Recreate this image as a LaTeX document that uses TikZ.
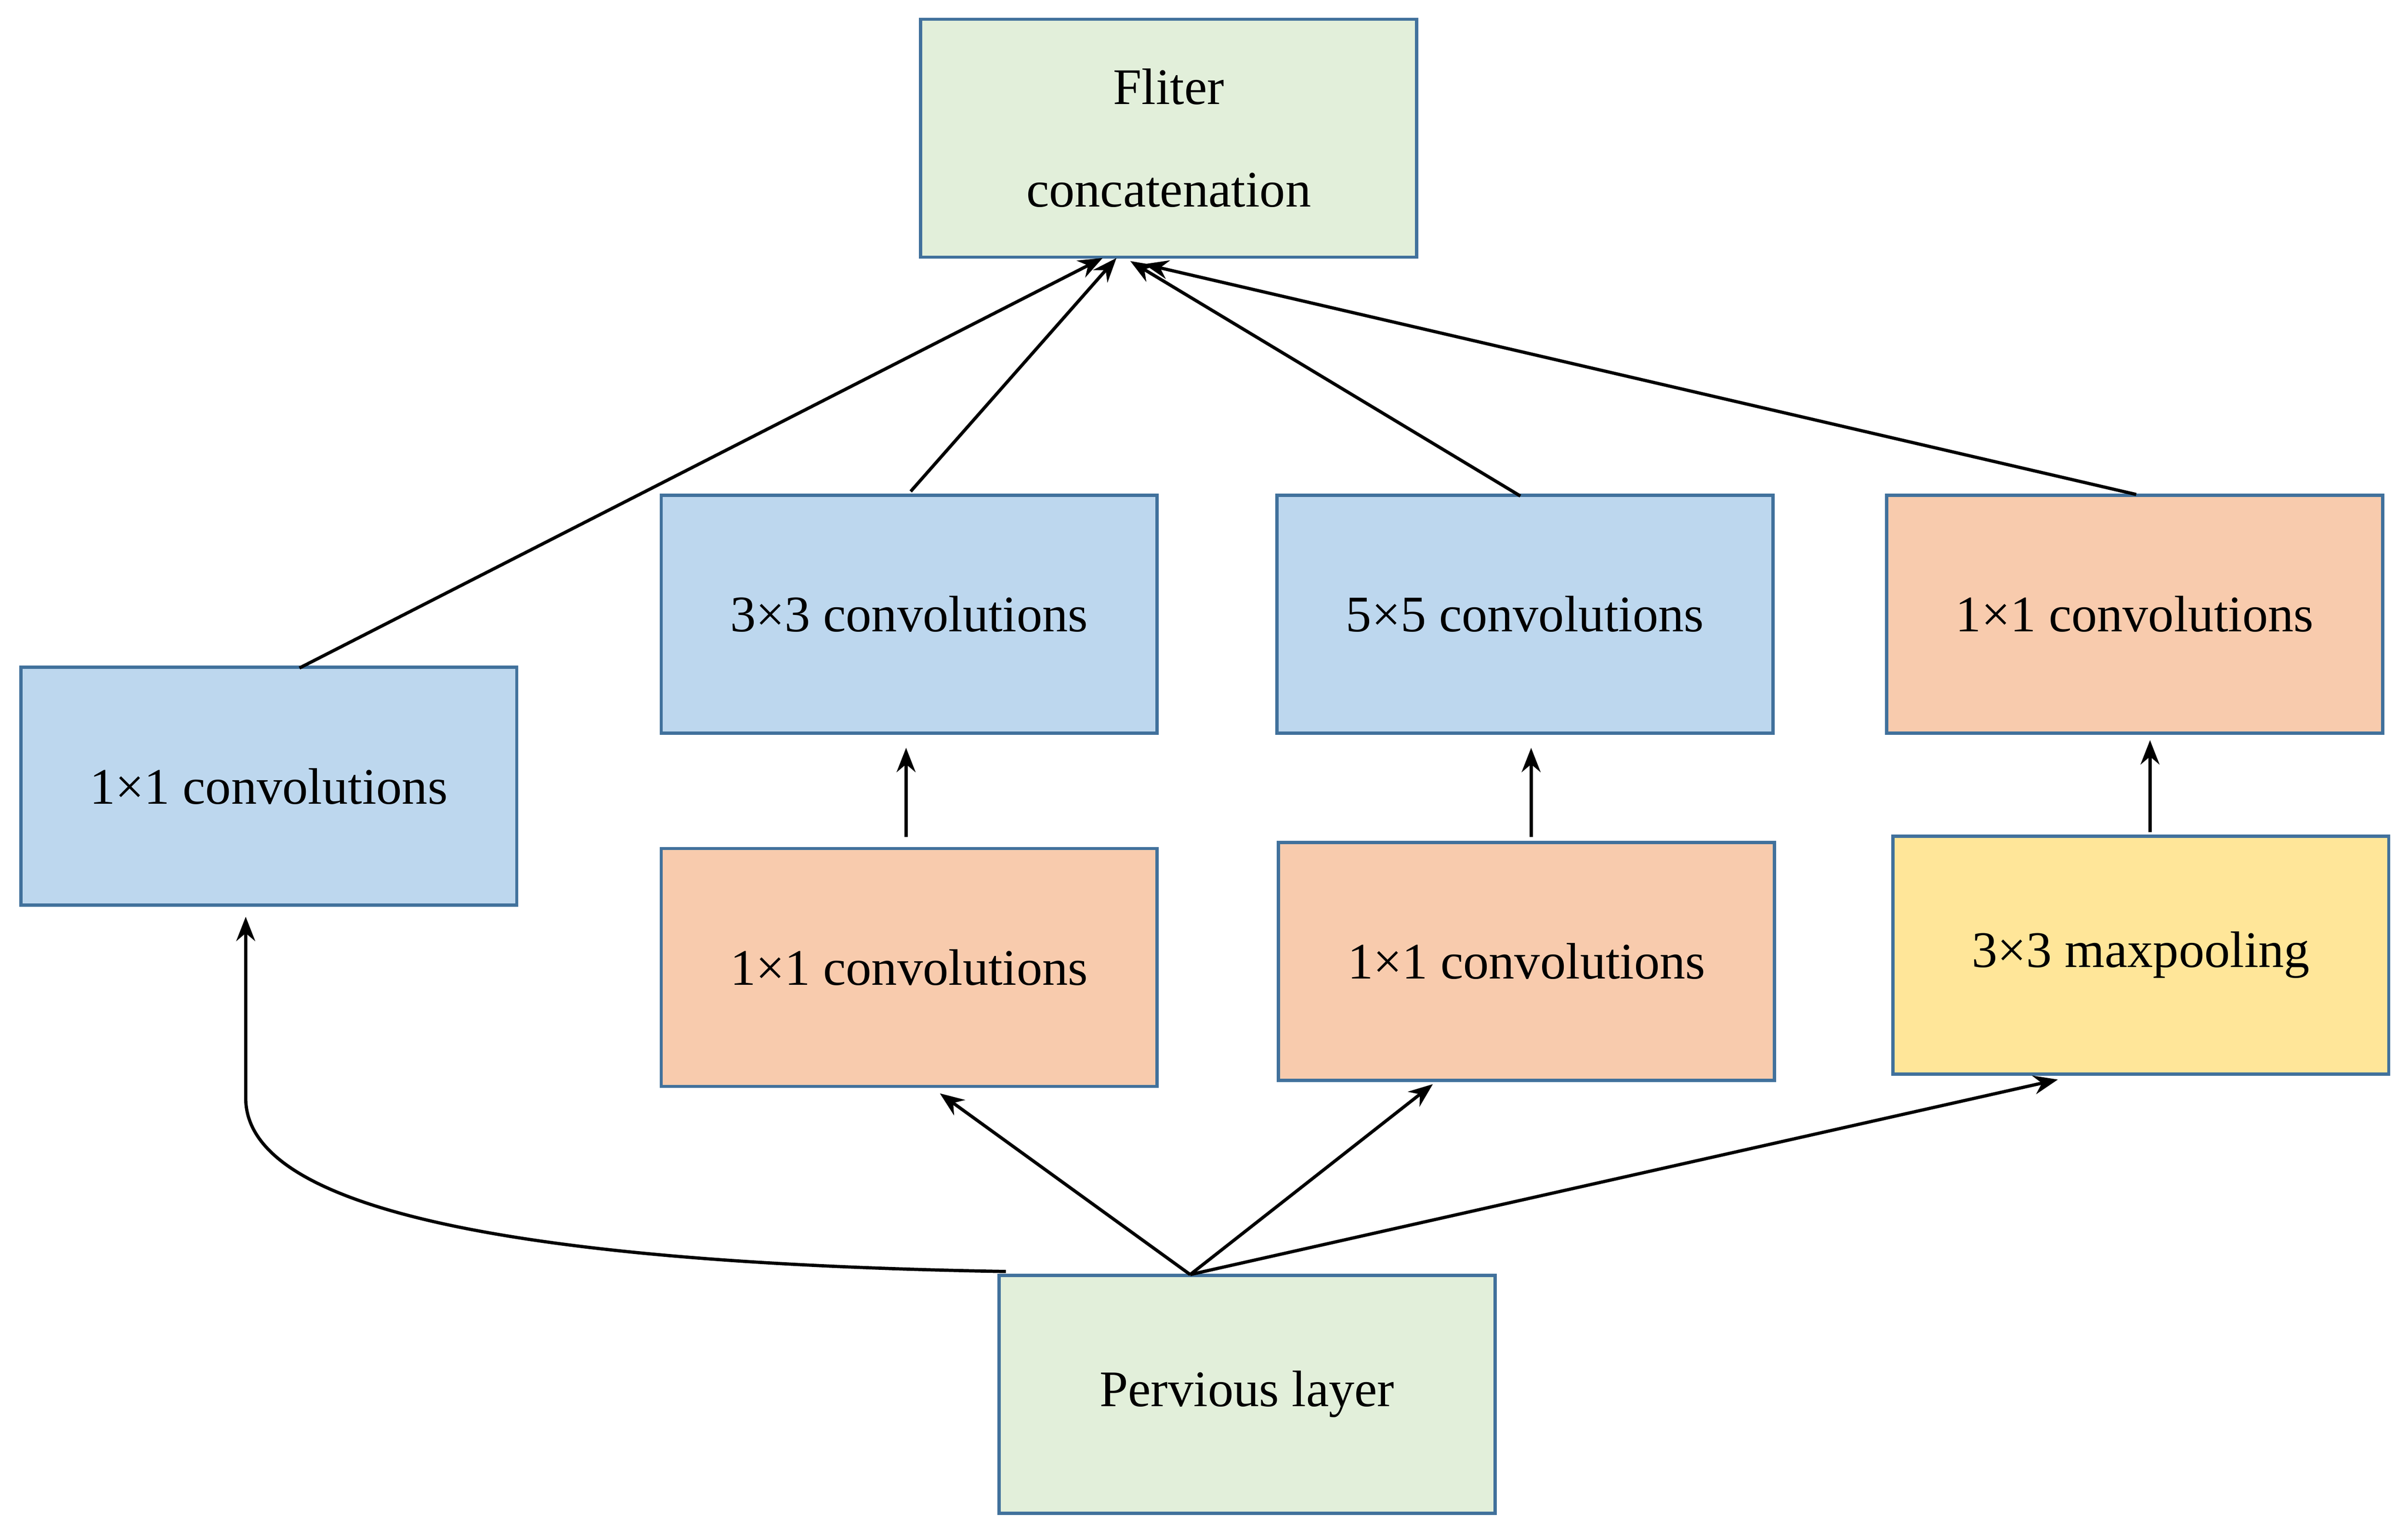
\documentclass[tikz,border=0pt]{standalone}
\usepackage{fontspec}
\setmainfont{Liberation Serif}
\usetikzlibrary{arrows.meta}
\definecolor{bd}{HTML}{41719C}
\definecolor{gr}{HTML}{E2EFDA}
\definecolor{bl}{HTML}{BDD7EE}
\definecolor{or}{HTML}{F8CBAD}
\definecolor{ye}{HTML}{FFE699}
\begin{document}
\begin{tikzpicture}[x=0.02cm,y=-0.02cm,
 box/.style={draw=bd,line width=1.2pt,minimum width=6.46cm,minimum height=3.1cm,inner sep=0pt,align=center,font=\fontsize{19}{38}\selectfont},
 arr/.style={line width=1.2pt,-{Stealth[length=9pt,width=7pt]}}]
\useasboundingbox (0,0) rectangle (1568,995);
\node[box,fill=gr] (fc) at (761,90) {Fliter\\concatenation};
\node[box,fill=bl] (l1) at (175,512) {1×1 convolutions};
\node[box,fill=bl] (c3) at (592,400) {3×3 convolutions};
\node[box,fill=bl] (c5) at (993,400) {5×5 convolutions};
\node[box,fill=or] (r1) at (1390,400) {1×1 convolutions};
\node[box,fill=or] (m1) at (592,630) {1×1 convolutions};
\node[box,fill=or] (m2) at (994,626) {1×1 convolutions};
\node[box,fill=ye] (mp) at (1394,622) {3×3 maxpooling};
\node[box,fill=gr] (pl) at (812,908) {Pervious layer};
\coordinate (t1) at (718,168);
\coordinate (t2) at (727,168);
\coordinate (t3) at (736,170);
\coordinate (t4) at (745,172);
\draw[arr] (195,435) -- (t1);
\draw[arr] (593,320) -- (t2);
\draw[arr] (990,323) -- (t3);
\draw[arr] (1391,322) -- (t4);
\draw[arr] (590,545) -- (590,487);
\draw[arr] (997,545) -- (997,487);
\draw[arr] (1400,542) -- (1400,482);
\coordinate (pt) at (775,830);
\draw[arr] (pt) -- (612,712);
\draw[arr] (pt) -- (933,706);
\draw[arr] (pt) -- (1340,703);
\draw[arr] (655,828) .. controls (300,822) and (160,780) .. (160,715) -- (160,597);
\end{tikzpicture}
\end{document}
